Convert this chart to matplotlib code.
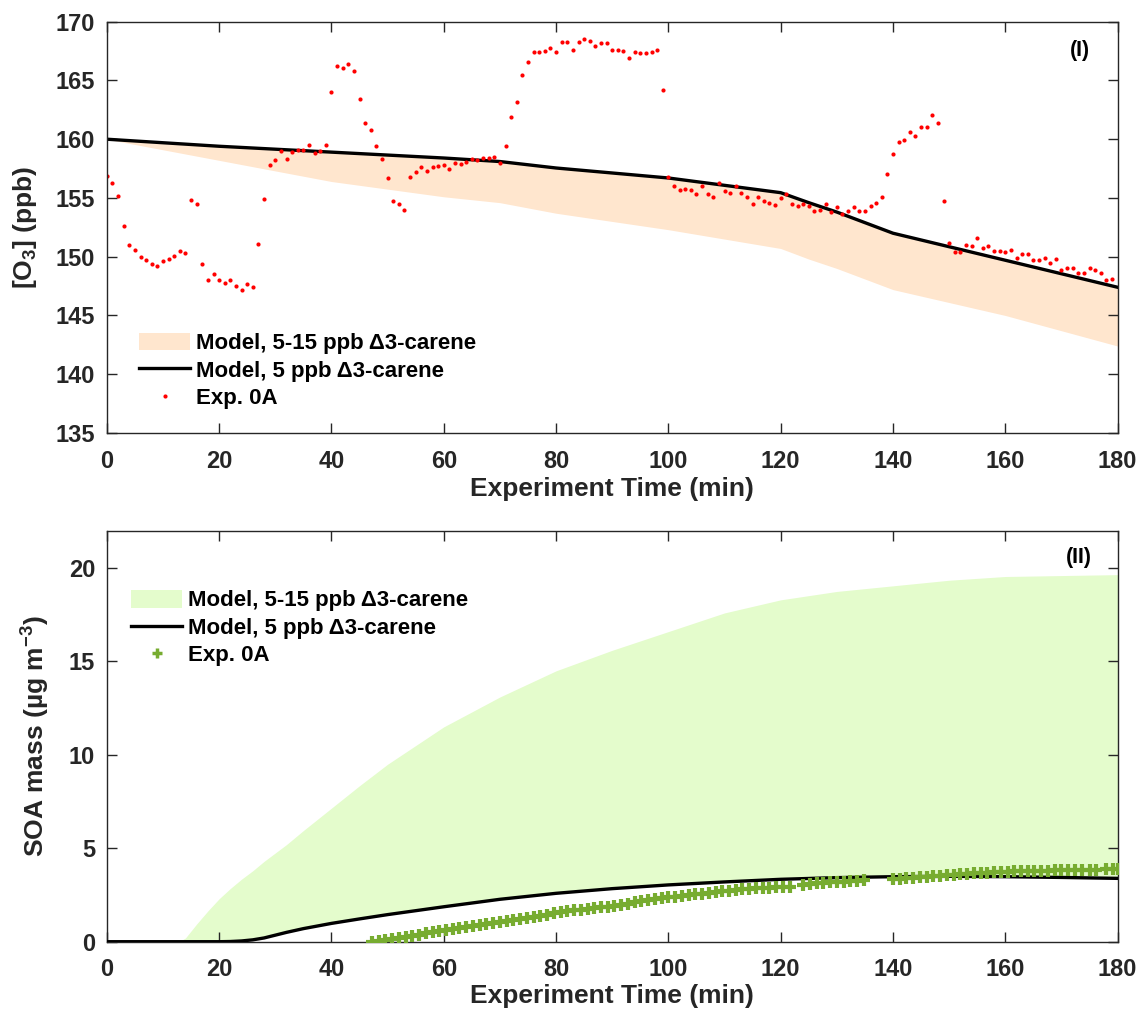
import numpy as np
import matplotlib
matplotlib.use("Agg")
import matplotlib.pyplot as plt
from matplotlib.patches import Patch
from matplotlib.lines import Line2D

plt.rcParams['font.family'] = ['Liberation Sans', 'DejaVu Sans']
plt.rcParams['font.weight'] = 'bold'
plt.rcParams['mathtext.fontset'] = 'custom'
plt.rcParams['mathtext.rm'] = 'Liberation Sans:bold'
plt.rcParams['mathtext.it'] = 'Liberation Sans:bold'
plt.rcParams['mathtext.bf'] = 'Liberation Sans:bold'
plt.rcParams['mathtext.default'] = 'rm'

# ---- panel (I): ozone ----
o3_time = np.arange(0, 180)  # measured every minute
o3_exp = [
    156.9, 156.3, 155.2, 152.6, 151.0, 150.6, 150.0, 149.7, 149.4, 149.2,
    149.6, 149.8, 150.1, 150.5, 150.3, 154.8, 154.5, 149.4, 148.0, 148.5,
    148.0, 147.8, 148.0, 147.5, 147.2, 147.7, 147.4, 151.1, 154.9, 157.8,
    158.2, 159.0, 158.3, 158.9, 159.1, 159.1, 159.5, 158.8, 159.0, 159.5,
    164.0, 166.2, 166.1, 166.4, 165.8, 163.4, 161.4, 160.8, 159.4, 158.3,
    156.7, 154.7, 154.5, 154.0, 156.8, 157.2, 157.6, 157.3, 157.6, 157.7,
    157.8, 157.5, 158.0, 157.9, 158.1, 158.3, 158.2, 158.4, 158.4, 158.5,
    158.0, 159.4, 161.9, 163.2, 165.5, 166.6, 167.4, 167.4, 167.5, 167.8,
    167.4, 168.3, 168.3, 167.6, 168.3, 168.5, 168.4, 167.9, 168.2, 168.2,
    167.6, 167.6, 167.5, 166.9, 167.4, 167.3, 167.3, 167.4, 167.6, 164.2,
    156.8, 156.0, 155.7, 155.8, 155.7, 155.3, 156.0, 155.3, 155.1, 156.3,
    155.6, 155.4, 156.0, 155.4, 155.1, 154.5, 155.1, 154.7, 154.6, 154.4,
    155.0, 155.3, 154.5, 154.3, 154.5, 154.3, 153.9, 154.0, 154.5, 153.8,
    154.2, 153.6, 153.9, 154.2, 153.9, 153.9, 154.3, 154.6, 155.1, 157.0,
    158.7, 159.8, 159.9, 160.6, 160.3, 161.0, 161.0, 162.1, 161.4, 154.7,
    151.2, 150.4, 150.4, 151.0, 150.9, 151.6, 150.7, 150.9, 150.5, 150.5,
    150.4, 150.6, 149.9, 150.2, 150.2, 149.7, 149.7, 149.9, 149.5, 149.8,
    148.9, 149.0, 149.0, 148.6, 148.6, 149.0, 148.9, 148.6, 148.0, 148.1,
]

o3_model_time = [0, 20, 40, 60, 70, 80, 100, 120, 125, 130, 135, 140, 160, 180]
o3_model_5 = [160.0, 159.4, 158.9, 158.4, 158.1, 157.55, 156.7, 155.45, 154.6, 153.8, 152.9, 152.0, 149.7, 147.4]
o3_model_15 = [160.0, 158.2, 156.4, 155.1, 154.6, 153.7, 152.3, 150.7, 149.8, 149.0, 148.1, 147.2, 145.0, 142.4]

# ---- panel (II): SOA ----
soa_model_time = [0, 10, 13, 14, 16, 18, 20, 22, 24, 26, 28, 30, 32, 35, 40, 45, 50, 60,
                  70, 80, 90, 100, 110, 120, 130, 140, 150, 160, 170, 180]
soa_model_15 = [0, 0, 0.02, 0.2, 0.95, 1.65, 2.3, 2.85, 3.35, 3.8, 4.3, 4.75, 5.2, 5.95,
                7.15, 8.35, 9.5, 11.5, 13.1, 14.5, 15.6, 16.6, 17.6, 18.3, 18.75, 19.05,
                19.35, 19.55, 19.6, 19.65]
soa_model_5 = [0, 0, 0, 0, 0, 0, 0, 0.01, 0.04, 0.1, 0.2, 0.35, 0.5, 0.7,
               0.98, 1.22, 1.45, 1.87, 2.27, 2.59, 2.84, 3.04, 3.2, 3.34, 3.43, 3.48,
               3.5, 3.48, 3.44, 3.39]

soa_time = [47.2, 48.4, 49.6, 50.8, 52.0, 53.2, 54.4, 55.6, 56.8, 58.0,
            59.2, 60.4, 61.6, 62.8, 64.0, 65.2, 66.4, 67.6, 68.8, 70.0,
            71.2, 72.4, 73.6, 74.8, 76.0, 77.2, 78.4, 79.6, 80.8, 82.0,
            83.2, 84.4, 85.6, 86.8, 88.0, 89.2, 90.4, 91.6, 92.8, 94.0,
            95.2, 96.4, 97.6, 98.8, 100.0, 101.2, 102.4, 103.6, 104.8, 106.0,
            107.2, 108.4, 109.6, 110.8, 112.0, 113.2, 114.4, 115.6, 116.8, 118.0,
            119.2, 120.4, 121.6, 124.0, 125.2, 126.4, 127.6, 128.8, 130.0, 131.2,
            132.4, 133.6, 134.8, 140.0, 141.2, 142.4, 143.6, 144.8, 146.0, 147.2,
            148.4, 149.6, 150.8, 152.0, 153.2, 154.4, 155.6, 156.8, 158.0, 159.2,
            160.4, 161.6, 162.8, 164.0, 165.2, 166.4, 167.6, 168.8, 170.0, 171.2,
            172.4, 173.6, 175.0, 176.2, 178.0, 179.2, 180.0]
soa_exp = [0.00, 0.05, 0.10, 0.15, 0.21, 0.26, 0.31, 0.37, 0.45, 0.52,
           0.58, 0.65, 0.70, 0.75, 0.80, 0.86, 0.91, 0.96, 1.01, 1.07,
           1.12, 1.18, 1.23, 1.29, 1.34, 1.40, 1.44, 1.52, 1.60, 1.64,
           1.68, 1.72, 1.76, 1.80, 1.84, 1.88, 1.92, 1.96, 2.00, 2.14,
           2.18, 2.23, 2.28, 2.32, 2.37, 2.41, 2.45, 2.50, 2.54, 2.58,
           2.62, 2.66, 2.70, 2.74, 2.78, 2.80, 2.83, 2.85, 2.87, 2.89,
           2.91, 2.93, 2.95, 3.05, 3.08, 3.12, 3.15, 3.18, 3.20, 3.22,
           3.24, 3.26, 3.28, 3.36, 3.38, 3.40, 3.42, 3.44, 3.47, 3.50,
           3.52, 3.55, 3.58, 3.60, 3.63, 3.66, 3.68, 3.70, 3.72, 3.74,
           3.75, 3.76, 3.77, 3.78, 3.76, 3.80, 3.81, 3.82, 3.83, 3.84,
           3.84, 3.85, 3.86, 3.86, 3.87, 3.88, 3.88]

band_labels = ["Model, 5-15 ppb Δ3-carene", "Model, 5 ppb Δ3-carene", "Exp. 0A"]

axis_color = '#262626'
orange_fill = '#FFE6CE'
green_fill = '#E4FCCC'
green_mark = '#77AC30'

fig = plt.figure(figsize=(11.39, 10.14), dpi=100)
ax1 = fig.add_axes([0.0938, 0.573, 0.8874, 0.4056])
ax2 = fig.add_axes([0.0938, 0.0713, 0.8874, 0.4053])


def style_axis(ax):
    for sp in ax.spines.values():
        sp.set_color(axis_color)
        sp.set_linewidth(1.0)
    ax.tick_params(direction='in', length=7, width=1, color=axis_color,
                   top=True, right=True, labelsize=17, labelcolor=axis_color)
    ax.tick_params(axis='x', pad=12)
    ax.tick_params(axis='y', pad=8.5)
    for lab in ax.get_xticklabels() + ax.get_yticklabels():
        lab.set_fontweight('bold')


leg_kw = dict(frameon=False, borderpad=0, borderaxespad=0, handlelength=2.3,
              handleheight=0.85, handletextpad=0.25, labelspacing=0.27,
              prop={'weight': 'bold', 'size': 16})

# panel (I)
ax1.fill_between(o3_model_time, o3_model_15, o3_model_5, color=orange_fill, lw=0)
ax1.plot(o3_model_time, o3_model_5, color='black', lw=2.4)
ax1.plot(o3_time, o3_exp, 'o', color='red', ms=3, mew=0, ls='none')
ax1.set_xlim(0, 180)
ax1.set_ylim(135, 170)
ax1.set_xticks(range(0, 181, 20))
ax1.set_yticks(range(135, 171, 5))
style_axis(ax1)
ax1.set_xlabel("Experiment Time (min)", fontsize=19, fontweight='bold', color=axis_color, labelpad=3)
ax1.set_ylabel(r"[O$_3$] (ppb)", fontsize=19, fontweight='bold', color=axis_color, labelpad=12)
ax1.text(0.973, 0.931, "(I)", transform=ax1.transAxes, fontsize=15.5, fontweight='bold',
         ha='right', va='center')
h1 = [Patch(facecolor=orange_fill, edgecolor='none'),
      Line2D([], [], color='black', lw=2.4),
      Line2D([], [], marker='o', color='red', ms=3, mew=0, ls='none')]
ax1.legend(h1, band_labels, loc='center left', bbox_to_anchor=(0.032, 0.151), **leg_kw)

# panel (II)
ax2.fill_between(soa_model_time, soa_model_5, soa_model_15, color=green_fill, lw=0)
ax2.plot(soa_model_time, soa_model_5, color='black', lw=2.4, zorder=3)
ax2.plot(soa_time, soa_exp, '+', color=green_mark, ms=9, mew=3, ls='none', zorder=4)
ax2.set_xlim(0, 180)
ax2.set_ylim(0, 22)
ax2.set_xticks(range(0, 181, 20))
ax2.set_yticks(range(0, 21, 5))
style_axis(ax2)
ax2.set_xlabel("Experiment Time (min)", fontsize=19, fontweight='bold', color=axis_color, labelpad=2)
ax2.set_ylabel(r"SOA mass (µg m$^{-3}$)", fontsize=19, fontweight='bold', color=axis_color, labelpad=12)
ax2.text(0.975, 0.934, "(II)", transform=ax2.transAxes, fontsize=15.5, fontweight='bold',
         ha='right', va='center')
h2 = [Patch(facecolor=green_fill, edgecolor='none'),
      Line2D([], [], color='black', lw=2.4),
      Line2D([], [], marker='+', color=green_mark, ms=7, mew=2.5, ls='none')]
ax2.legend(h2, band_labels, loc='center left', bbox_to_anchor=(0.024, 0.763), **leg_kw)

fig.savefig("out.png", dpi=100)
